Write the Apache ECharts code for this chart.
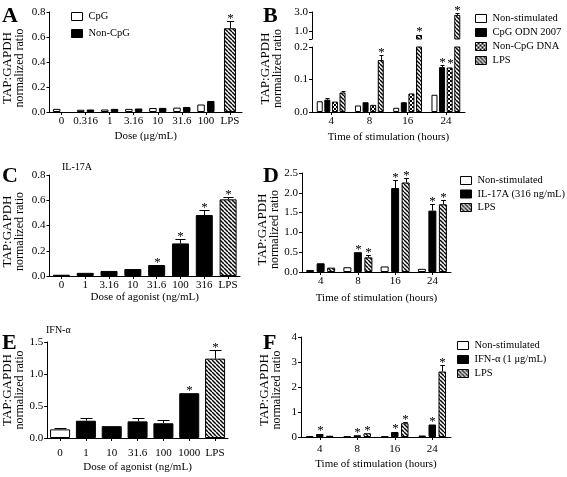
<!DOCTYPE html>
<html><head><meta charset="utf-8">
<script src="https://cdn.jsdelivr.net/npm/echarts@6/dist/echarts.min.js"></script>
<style>html,body{margin:0;padding:0;background:#fff}#c{width:567px;height:477px}</style>
</head><body><div id="c"></div>
<script>
// ---------------- DATA ----------------
// Panel A
const aCats = ['0','0.316','1','3.16','10','31.6','100','LPS'];
const aCpG       = [0.025,0.018,0.020,0.025,0.032,0.035,0.060,'-'];
const aCpGErr    = [0.002,0.002,0.002,0.002,0.002,0.002,0.004,0];
const aNonCpG    = ['-',0.020,0.025,0.028,0.033,0.040,0.088,'-'];
const aNonCpGErr = [0,0.002,0.002,0.002,0.002,0.002,0.003,0];
const aLPS       = ['-','-','-','-','-','-','-',0.670];
const aLPSErr    = [0,0,0,0,0,0,0,0.055];
const aLPSSig    = [0,0,0,0,0,0,0,1];
const aLegend    = ['CpG','Non-CpG'];

// Panel B (broken axis)
const bCats = ['4','8','16','24'];
const bNon       = [0.033,0.020,0.013,0.053];
const bNonErr    = [0.003,0.002,0.001,0.003];
const bCpG       = [0.038,0.030,0.030,0.138];
const bCpGErr    = [0.006,0.002,0.001,0.007];
const bCpGSig    = [0,0,0,1];
const bNonCpG    = [0.032,0.022,0.057,0.137];
const bNonCpGErr = [0.002,0.003,0.001,0.003];
const bNonCpGSig = [0,0,0,1];
const bLPS       = [0.060,0.160,0.620,2.700];
const bLPSErr    = [0.005,0.015,0.060,0.180];
const bLPSSig    = [0,1,1,1];
const bLegend    = ['Non-stimulated','CpG ODN 2007','Non-CpG DNA','LPS'];
const bLowTicks  = [0, 0.2, 0.1];   // min, max, interval
const bHighTicks = [1.0, 3.0];      // labelled ticks on upper segment

// Panel C
const cCats = ['0','1','3.16','10','31.6','100','316','LPS'];
const cIL        = [0.010,0.025,0.040,0.055,0.087,0.258,0.483,'-'];
const cILErr     = [0.001,0.002,0.003,0.002,0.003,0.032,0.040,0];
const cILSig     = [0,0,0,0,1,1,1,0];
const cLPS       = ['-','-','-','-','-','-','-',0.607];
const cLPSErr    = [0,0,0,0,0,0,0,0.015];
const cLPSSig    = [0,0,0,0,0,0,0,1];

// Panel D
const dCats = ['4','8','16','24'];
const dNon       = [0.050,0.120,0.140,0.080];
const dNonErr    = [0.005,0.008,0.008,0.005];
const dIL        = [0.220,0.500,2.120,1.550];
const dILErr     = [0.010,0.015,0.200,0.170];
const dILSig     = [0,1,1,1];
const dLPS       = [0.110,0.370,2.260,1.710];
const dLPSErr    = [0.010,0.050,0.120,0.100];
const dLPSSig    = [0,1,1,1];
const dLegend    = ['Non-stimulated','IL-17A (316 ng/mL)','LPS'];

// Panel E
const eCats = ['0','1','10','31.6','100','1000','LPS'];
const eCtrl      = [0.135,'-','-','-','-','-','-'];
const eCtrlErr   = [0.020,0,0,0,0,0,0];
const eIFN       = ['-',0.270,0.185,0.260,0.230,0.700,'-'];
const eIFNErr    = [0,0.045,0.005,0.045,0.045,0.008,0];
const eIFNSig    = [0,0,0,0,0,1,0];
const eLPS       = ['-','-','-','-','-','-',1.240];
const eLPSErr    = [0,0,0,0,0,0,0.140];
const eLPSSig    = [0,0,0,0,0,0,1];

// Panel F
const fCats = ['4','8','16','24'];
const fNon       = [0.030,0.020,0.020,0.060];
const fNonErr    = [0.005,0.003,0.003,0.005];
const fIFN       = [0.120,0.070,0.200,0.500];
const fIFNErr    = [0.020,0.010,0.030,0.030];
const fIFNSig    = [1,1,1,1];
const fLPS       = [0.050,0.150,0.550,2.620];
const fLPSErr    = [0.010,0.020,0.060,0.250];
const fLPSSig    = [0,1,1,1];
const fLegend    = ['Non-stimulated','IFN-α (1 μg/mL)','LPS'];

// ---------------- STYLE HELPERS ----------------
const FONT = '"Liberation Serif", "Times New Roman", serif';
function hatchPattern(){
  const s = 4, c = document.createElement('canvas'); c.width = s; c.height = s;
  const g = c.getContext('2d'); g.fillStyle = '#fff'; g.fillRect(0,0,s,s);
  g.strokeStyle = '#000'; g.lineWidth = 1.4;
  for (const k of [-s,0,s]) { g.beginPath(); g.moveTo(0,k); g.lineTo(s,s+k); g.stroke(); }
  return {image:c, repeat:'repeat'};
}
function checkPattern(){
  const s = 4, c = document.createElement('canvas'); c.width = s; c.height = s;
  const g = c.getContext('2d'); g.fillStyle = '#000'; g.fillRect(0,0,s,s);
  g.fillStyle = '#fff'; g.fillRect(0,0,2,2); g.fillRect(2,2,2,2);
  return {image:c, repeat:'repeat'};
}
const WHITE = '#ffffff', BLACK = '#000000', HATCH = hatchPattern(), CHECK = checkPattern();

const grids = [], xAxes = [], yAxes = [], series = [], legends = [], titles = [];
const txt = {color:'#000', fontFamily:FONT, fontSize:11};

function panel(p){
  const gi = grids.length;
  grids.push({left:p.left, top:p.top, width:p.width, height:p.height});
  const xi = xAxes.length;
  xAxes.push({type:'category', gridIndex:gi, data:p.cats, show:p.showX !== false,
    axisLine:{lineStyle:{color:'#000', width:1}},
    axisTick:{show:true, alignWithLabel:true, length:3, lineStyle:{color:'#000'}},
    axisLabel:Object.assign({margin:p.labelMargin || 4, interval:0}, txt),
    name:p.xName, nameLocation:'middle', nameGap:p.xNameGap || 18, nameTextStyle:txt});
  const yi = yAxes.length;
  const y = {type:'value', gridIndex:gi, min:p.yMin, max:p.yMax,
    axisLine:{show:true, lineStyle:{color:'#000', width:1}},
    axisTick:{show:true, length:3, lineStyle:{color:'#000'}},
    splitLine:{show:false},
    axisLabel:Object.assign({margin:4, formatter:p.fmt}, txt)};
  if (p.interval != null) y.interval = p.interval;
  if (p.labelValues) { y.axisLabel.customValues = p.labelValues; y.axisTick.customValues = p.tickValues; }
  if (p.yName) {
    // positive shift moves the title down on screen, negative moves it up
    const sh = p.yShift || 0;
    const pad = sh >= 0 ? [0, 2 * sh, 0, 0] : [0, 0, 0, -2 * sh];
    y.name = '{a|TAP:GAPDH}\n{b|normalized ratio}';
    y.nameLocation = 'middle'; y.nameRotate = 90; y.nameGap = p.yNameGap;
    y.nameTextStyle = {color:'#000', fontFamily:FONT, lineHeight:12,
      rich:{a:{fontSize:13, fontFamily:FONT, color:'#000', lineHeight:12, padding:pad},
            b:{fontSize:12, fontFamily:FONT, color:'#000', lineHeight:12, padding:pad}}};
  }
  yAxes.push(y);
  return {gi, xi, yi};
}
function extraX(gi, cats){
  const xi = xAxes.length;
  xAxes.push({type:'category', gridIndex:gi, data:cats, show:false});
  return xi;
}
function bar(ax, xi, name, data, color, bw, gap){
  series.push({type:'bar', name, xAxisIndex:xi, yAxisIndex:ax.yi, data, barWidth:bw, barGap:gap,
    itemStyle:{color, borderColor:'#000', borderWidth:1}, animation:false, z:2});
}
function err(ax, xi, vals, errs, sigs, n, k, bw, gapPx, filter){
  const data = [];
  vals.forEach((v,i)=>{ if (v !== '-') data.push([i, v, errs[i] || 0, sigs ? sigs[i] : 0]); });
  series.push({type:'custom', xAxisIndex:xi, yAxisIndex:ax.yi, data, z:5, silent:true, animation:false,
    renderItem(params, api){
      const i = api.value(0), v = api.value(1), e = api.value(2), s = api.value(3);
      if (filter && !filter(v)) return;
      const off = (k - (n - 1) / 2) * (bw + gapPx);
      const p0 = api.coord([i, v]), p1 = api.coord([i, v + e]);
      const x = Math.round(p0[0] + off) + 0.5;
      const ch = [];
      if (e > 0 && p0[1] - p1[1] >= 1) {
        const yt = Math.round(p1[1]) + 0.5;
        ch.push({type:'line', shape:{x1:x, y1:p0[1], x2:x, y2:yt}, style:{stroke:'#000', lineWidth:1}});
        const cw = Math.max(2, bw * 0.3);
        ch.push({type:'line', shape:{x1:x - cw, y1:yt, x2:x + cw, y2:yt}, style:{stroke:'#000', lineWidth:1}});
      }
      if (s) ch.push({type:'text', x:x, y:p1[1] + 4, style:{text:'*', font:'13px ' + FONT, fill:'#000', align:'center', verticalAlign:'bottom'}});
      return {type:'group', children:ch};
    }});
}
function legend(left, top, names, gap){
  legends.push({left, top, padding:0, orient:'vertical', data:names, icon:'rect', itemWidth:11, itemHeight:8,
    itemGap:gap, selectedMode:false, textStyle:{color:'#000', fontFamily:FONT, fontSize:10.5, padding:[0,0,0,1]},
    itemStyle:{borderColor:'#000', borderWidth:1}});
}
function title(text, left, top, size, bold){
  titles.push({text, left, top, padding:0, textStyle:{color:'#000', fontFamily:FONT, fontSize:size, fontWeight:bold ? 'bold' : 'normal'}});
}
const f1 = v => v.toFixed(1), f0 = v => v.toFixed(0);

// ---------------- PANEL A ----------------
{
  const ax = panel({left:48, top:12, width:194, height:100, cats:aCats, yMin:0, yMax:0.8, interval:0.2, fmt:f1,
    xName:'Dose (μg/mL)', xNameGap:19, yName:true, yNameGap:24, yShift:6});
  const lx = extraX(ax.gi, aCats);
  bar(ax, ax.xi, 'CpG', aCpG, WHITE, 7.5, '30%');
  bar(ax, ax.xi, 'Non-CpG', aNonCpG, BLACK, 7.5, '30%');
  bar(ax, lx, 'LPS', aLPS, HATCH, 12, '30%');
  err(ax, ax.xi, aCpG, aCpGErr, null, 2, 0, 7.5, 2.25);
  err(ax, ax.xi, aNonCpG, aNonCpGErr, null, 2, 1, 7.5, 2.25);
  err(ax, lx, aLPS, aLPSErr, aLPSSig, 1, 0, 12, 0);
  legend(71, 11, aLegend, 6);
  title('A', 2, 5, 22, true);
}
// ---------------- PANEL B ----------------
{
  const lo = panel({left:312, top:47, width:153, height:65, cats:bCats, yMin:bLowTicks[0], yMax:bLowTicks[1], interval:bLowTicks[2], fmt:f1,
    xName:'Time of stimulation (hours)', xNameGap:20, yName:true, yNameGap:28, yShift:-11});
  const hi = panel({left:312, top:12, width:153, height:27, cats:bCats, yMin:0.2, yMax:bHighTicks[1], fmt:f1,
    showX:false, labelValues:bHighTicks, tickValues:[0.2].concat(bHighTicks)});
  const BW = 6, G = 1.6, gp = (G / BW * 100) + '%';
  for (const ax of [lo, hi]) {
    const isLo = ax === lo;
    const flt = isLo ? (v => v <= bLowTicks[1]) : (v => v > bLowTicks[1]);
    bar(ax, ax.xi, 'Non-stimulated', bNon, WHITE, BW, gp);
    bar(ax, ax.xi, 'CpG ODN 2007', bCpG, BLACK, BW, gp);
    bar(ax, ax.xi, 'Non-CpG DNA', bNonCpG, CHECK, BW, gp);
    bar(ax, ax.xi, 'LPS', bLPS, HATCH, BW, gp);
    err(ax, ax.xi, bNon, bNonErr, null, 4, 0, BW, G, flt);
    err(ax, ax.xi, bCpG, bCpGErr, bCpGSig, 4, 1, BW, G, flt);
    err(ax, ax.xi, bNonCpG, bNonCpGErr, bNonCpGSig, 4, 2, BW, G, flt);
    err(ax, ax.xi, bLPS, bLPSErr, bLPSSig, 4, 3, BW, G, flt);
  }
  legend(475, 13, bLegend, 3);
  title('B', 263, 5, 22, true);
}
// ---------------- PANEL C ----------------
{
  const ax = panel({left:48, top:175, width:192, height:101, cats:cCats, yMin:0, yMax:0.8, interval:0.2, fmt:f1,
    xName:'Dose of agonist (ng/mL)', xNameGap:15, yName:true, yNameGap:24, yShift:6});
  bar(ax, ax.xi, 'IL-17A', cIL, BLACK, 17, '-100%');
  bar(ax, ax.xi, 'LPS', cLPS, HATCH, 17, '-100%');
  err(ax, ax.xi, cIL, cILErr, cILSig, 1, 0, 17, 0);
  err(ax, ax.xi, cLPS, cLPSErr, cLPSSig, 1, 0, 17, 0);
  title('C', 2, 165, 22, true);
  title('IL-17A', 62, 162, 10, false);
}
// ---------------- PANEL D ----------------
{
  const ax = panel({left:302, top:173, width:149, height:99, cats:dCats, yMin:0, yMax:2.5, interval:0.5, fmt:f1,
    xName:'Time of stimulation (hours)', xNameGap:21, yName:true, yNameGap:19, yShift:7});
  const BW = 8, G = 2.5, gp = (G / BW * 100) + '%';
  bar(ax, ax.xi, 'Non-stimulated', dNon, WHITE, BW, gp);
  bar(ax, ax.xi, 'IL-17A (316 ng/mL)', dIL, BLACK, BW, gp);
  bar(ax, ax.xi, 'LPS', dLPS, HATCH, BW, gp);
  err(ax, ax.xi, dNon, dNonErr, null, 3, 0, BW, G);
  err(ax, ax.xi, dIL, dILErr, dILSig, 3, 1, BW, G);
  err(ax, ax.xi, dLPS, dLPSErr, dLPSSig, 3, 2, BW, G);
  legend(460, 175, dLegend, 2.5);
  title('D', 263, 165, 22, true);
}
// ---------------- PANEL E ----------------
{
  const ax = panel({left:40, top:342, width:188, height:96, cats:eCats, yMin:0, yMax:1.5, interval:0.5, fmt:f1,
    xName:'Dose of agonist (ng/mL)', xNameGap:24, labelMargin:10, yName:true, yNameGap:15, yShift:0});
  bar(ax, ax.xi, 'Control', eCtrl, WHITE, 20, '-100%');
  bar(ax, ax.xi, 'IFN-α', eIFN, BLACK, 20, '-100%');
  bar(ax, ax.xi, 'LPS', eLPS, HATCH, 20, '-100%');
  err(ax, ax.xi, eCtrl, eCtrlErr, null, 1, 0, 20, 0);
  err(ax, ax.xi, eIFN, eIFNErr, eIFNSig, 1, 0, 20, 0);
  err(ax, ax.xi, eLPS, eLPSErr, eLPSSig, 1, 0, 20, 0);
  title('E', 2, 332, 22, true);
  title('IFN-α', 46, 325, 10, false);
}
// ---------------- PANEL F ----------------
{
  const ax = panel({left:301, top:337, width:150, height:100, cats:fCats, yMin:0, yMax:4, interval:1, fmt:f0,
    xName:'Time of stimulation (hours)', xNameGap:22, labelMargin:7, yName:true, yNameGap:18, yShift:3});
  const BW = 7.5, G = 2.5, gp = (G / BW * 100) + '%';
  bar(ax, ax.xi, 'Non-stimulated', fNon, WHITE, BW, gp);
  bar(ax, ax.xi, 'IFN-α (1 μg/mL)', fIFN, BLACK, BW, gp);
  bar(ax, ax.xi, 'LPS', fLPS, HATCH, BW, gp);
  err(ax, ax.xi, fNon, fNonErr, null, 3, 0, BW, G);
  err(ax, ax.xi, fIFN, fIFNErr, fIFNSig, 3, 1, BW, G);
  err(ax, ax.xi, fLPS, fLPSErr, fLPSSig, 3, 2, BW, G);
  legend(457, 340, fLegend, 3);
  title('F', 263, 332, 22, true);
}

const chart = echarts.init(document.getElementById('c'), null, {renderer:'canvas'});
chart.setOption({animation:false, backgroundColor:'#fff', title:titles, legend:legends,
  grid:grids, xAxis:xAxes, yAxis:yAxes, series});
</script></body></html>
